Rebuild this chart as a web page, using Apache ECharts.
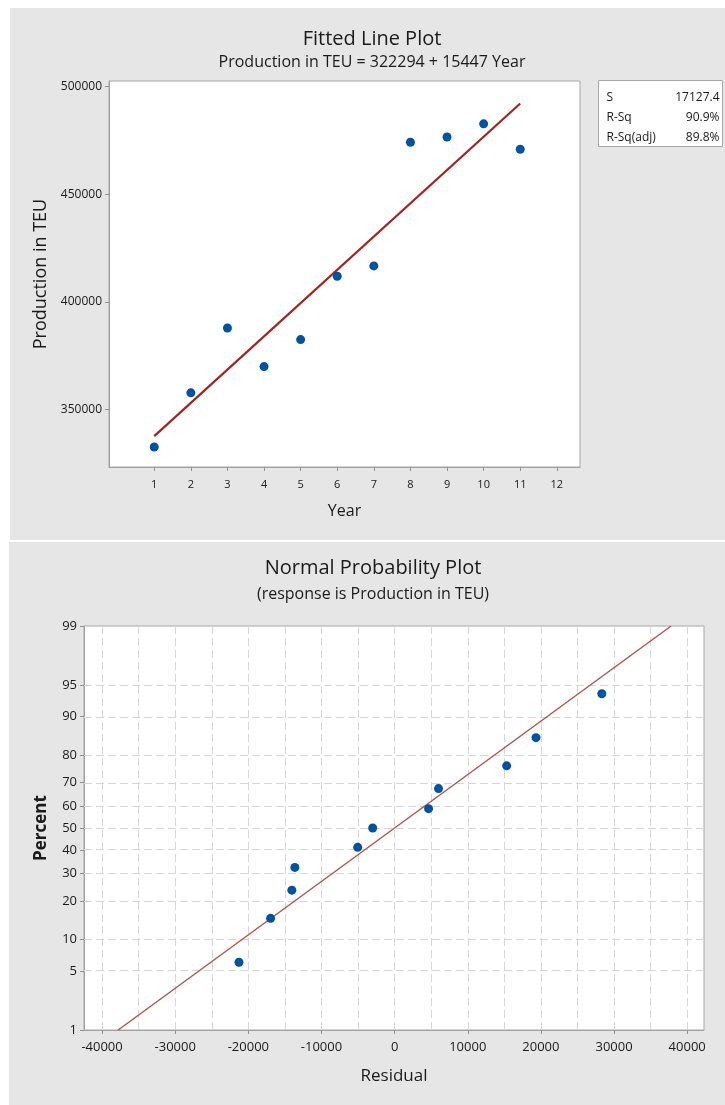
<!DOCTYPE html>
<html>
<head>
<meta charset="utf-8">
<style>
  html, body { margin: 0; padding: 0; background: #fff; }
  #chart { width: 725px; height: 1105px; }
</style>
</head>
<body>
<div id="chart"></div>
<script src="https://cdn.jsdelivr.net/npm/echarts@6/dist/echarts.min.js"></script>
<script>
// fitted line plot data
var years = [1, 2, 3, 4, 5, 6, 7, 8, 9, 10, 11];
var production = [332700, 357830, 387965, 370030, 382570, 411976, 416780, 474200, 476640, 482760, 470930];
var fitIntercept = 322294;
var fitSlope = 15447;
var yearTicks = [1, 2, 3, 4, 5, 6, 7, 8, 9, 10, 11, 12];
var productionTicks = [350000, 400000, 450000, 500000];
var statNames = ['S', 'R-Sq', 'R-Sq(adj)'];
var statValues = ['17127.4', '90.9%', '89.8%'];

// normal probability plot data
var residuals = [-21280, -16960, -14050, -13640, -5050, -3000, 4640, 6000, 15320, 19330, 28330];
var percents = [6.1, 14.9, 23.7, 32.5, 41.2, 50.0, 58.8, 67.5, 76.3, 85.1, 93.9];
var refMean = 0;
var refSd = 16250;
var percentTicks = [1, 5, 10, 20, 30, 40, 50, 60, 70, 80, 90, 95, 99];
var residualTicks = [-40000, -30000, -20000, -10000, 0, 10000, 20000, 30000, 40000];

var FONT = 'Open Sans';
var INK = '#1a1a1a';

// inverse normal cdf (Acklam), used as the probability scale
function probit(p) {
  var a = [-3.969683028665376e+01, 2.209460984245205e+02, -2.759285104469687e+02, 1.383577518672690e+02, -3.066479806614716e+01, 2.506628277459239e+00];
  var b = [-5.447609879822406e+01, 1.615858368580409e+02, -1.556989798598866e+02, 6.680131188771972e+01, -1.328068155288572e+01];
  var c = [-7.784894002430293e-03, -3.223964580411365e-01, -2.400758277161838e+00, -2.549732539343734e+00, 4.374664141464968e+00, 2.938163982698783e+00];
  var d = [7.784695709041462e-03, 3.224671290700398e-01, 2.445134137142996e+00, 3.754408661907416e+00];
  var q, r;
  if (p < 0.02425) {
    q = Math.sqrt(-2 * Math.log(p));
    return (((((c[0]*q+c[1])*q+c[2])*q+c[3])*q+c[4])*q+c[5]) / ((((d[0]*q+d[1])*q+d[2])*q+d[3])*q+1);
  }
  if (p <= 1 - 0.02425) {
    q = p - 0.5; r = q * q;
    return (((((a[0]*r+a[1])*r+a[2])*r+a[3])*r+a[4])*r+a[5])*q / (((((b[0]*r+b[1])*r+b[2])*r+b[3])*r+b[4])*r+1);
  }
  q = Math.sqrt(-2 * Math.log(1 - p));
  return -(((((c[0]*q+c[1])*q+c[2])*q+c[3])*q+c[4])*q+c[5]) / ((((d[0]*q+d[1])*q+d[2])*q+d[3])*q+1);
}

var topPoints = years.map(function (x, i) { return [x, production[i]]; });
var topFit = [years[0], years[years.length - 1]].map(function (x) { return [x, fitIntercept + fitSlope * x]; });

var probPoints = residuals.map(function (r, i) { return [r, probit(percents[i] / 100)]; });
var probFit = [percentTicks[0], percentTicks[percentTicks.length - 1]].map(function (p) {
  var z = probit(p / 100);
  return [refMean + refSd * z, z];
});
var percentZ = percentTicks.map(function (p) { return probit(p / 100); });

// dashed reference grid for the probability plot
var gridLines = [];
for (var v = -40000; v <= 40000; v += 5000) gridLines.push({ xAxis: v });
percentZ.slice(1, -1).forEach(function (z) { gridLines.push({ yAxis: z }); });

var statsBox = { type: 'group', left: 598, top: 80, children: [
  { type: 'rect', shape: { x: 0, y: 0, width: 124, height: 66 }, style: { fill: '#fff', stroke: '#a8a8a8', lineWidth: 1 } }
]};
statNames.forEach(function (n, i) {
  statsBox.children.push({ type: 'text', x: 8, y: 17 + i * 20, style: { text: n, fill: INK, font: '12px ' + FONT, verticalAlign: 'middle' } });
  statsBox.children.push({ type: 'text', x: 121, y: 17 + i * 20, style: { text: statValues[i], fill: INK, font: '12px ' + FONT, align: 'right', verticalAlign: 'middle' } });
});

function plain(v) { return String(v); }

var chart = echarts.init(document.getElementById('chart'));

var axisLineStyle = { show: true, onZero: false, lineStyle: { color: '#a0a0a0', width: 1 } };
var tickStyle = { show: true, length: 4, lineStyle: { color: '#909090' } };

var option = {
  backgroundColor: '#fff',
  animation: false,
  textStyle: { fontFamily: FONT },
  graphic: [
    { type: 'rect', shape: { x: 10, y: 8, width: 715, height: 532 }, style: { fill: '#e6e6e6' }, z: -10 },
    { type: 'rect', shape: { x: 9, y: 542, width: 716, height: 563 }, style: { fill: '#e6e6e6' }, z: -10 },
    statsBox
  ],
  title: [
    { text: 'Fitted Line Plot', left: 367, top: 24, textAlign: 'center', textStyle: { fontSize: 20, fontWeight: 'normal', color: INK, fontFamily: FONT } },
    { text: 'Production in TEU = 322294 + 15447 Year', left: 367, top: 49, textAlign: 'center', textStyle: { fontSize: 16, fontWeight: 'normal', color: INK, fontFamily: FONT } },
    { text: 'Normal Probability Plot', left: 368, top: 553, textAlign: 'center', textStyle: { fontSize: 20, fontWeight: 'normal', color: INK, fontFamily: FONT } },
    { text: '(response is Production in TEU)', left: 368, top: 581, textAlign: 'center', textStyle: { fontSize: 16, fontWeight: 'normal', color: INK, fontFamily: FONT } }
  ],
  grid: [
    { left: 109, top: 81, right: 145, bottom: 638, show: true, backgroundColor: '#fff', borderColor: '#a8a8a8', borderWidth: 1 },
    { left: 84, top: 626, right: 21, bottom: 75, show: true, backgroundColor: '#fff', borderColor: '#a8a8a8', borderWidth: 1 }
  ],
  xAxis: [
    {
      type: 'value', gridIndex: 0, min: -0.236, max: 12.633,
      name: 'Year', nameLocation: 'middle', nameGap: 36,
      nameTextStyle: { fontSize: 16, color: INK },
      axisLine: axisLineStyle, axisTick: Object.assign({ customValues: yearTicks }, tickStyle),
      axisLabel: { customValues: yearTicks, fontSize: 11, color: INK, margin: 12, formatter: plain },
      splitLine: { show: false }
    },
    {
      type: 'value', gridIndex: 1, min: -42470, max: 42300,
      name: 'Residual', nameLocation: 'middle', nameGap: 38,
      nameTextStyle: { fontSize: 17, color: INK },
      axisLine: axisLineStyle, axisTick: Object.assign({ customValues: residualTicks }, tickStyle),
      axisLabel: { customValues: residualTicks, fontSize: 13, color: INK, margin: 11, formatter: plain },
      splitLine: { show: false }
    }
  ],
  yAxis: [
    {
      type: 'value', gridIndex: 0, min: 323400, max: 502650,
      name: 'Production in TEU', nameLocation: 'middle', nameGap: 58,
      nameTextStyle: { fontSize: 18, color: INK },
      axisLine: axisLineStyle, axisTick: Object.assign({ customValues: productionTicks }, tickStyle),
      axisLabel: { customValues: productionTicks, fontSize: 12, color: INK, margin: 7, formatter: plain },
      splitLine: { show: false }
    },
    {
      type: 'value', gridIndex: 1, min: percentZ[0], max: percentZ[percentZ.length - 1],
      name: 'Percent', nameLocation: 'middle', nameGap: 34,
      nameTextStyle: { fontSize: 17, fontWeight: 'bold', color: INK },
      axisLine: axisLineStyle, axisTick: Object.assign({ customValues: percentZ }, tickStyle),
      axisLabel: {
        customValues: percentZ, fontSize: 13, color: INK, margin: 7,
        formatter: function (val) {
          var best = 0;
          percentZ.forEach(function (z, i) { if (Math.abs(z - val) < Math.abs(percentZ[best] - val)) best = i; });
          return String(percentTicks[best]);
        }
      },
      splitLine: { show: false }
    }
  ],
  series: [
    {
      type: 'line', xAxisIndex: 0, yAxisIndex: 0, data: topFit, symbol: 'none',
      lineStyle: { color: '#a3231f', width: 2.2 }, z: 3, silent: true
    },
    {
      type: 'scatter', xAxisIndex: 0, yAxisIndex: 0, data: topPoints,
      symbol: 'circle', symbolSize: 9, itemStyle: { color: '#0052a3', opacity: 1 }, z: 4
    },
    {
      type: 'line', xAxisIndex: 1, yAxisIndex: 1, data: [], silent: true, z: 1,
      markLine: {
        z: 1, silent: true, symbol: 'none', label: { show: false },
        lineStyle: { color: '#d6d6d6', type: [8, 4], width: 1 },
        emphasis: { disabled: true },
        data: gridLines
      }
    },
    {
      type: 'line', xAxisIndex: 1, yAxisIndex: 1, data: probFit, symbol: 'none',
      lineStyle: { color: '#b4504c', width: 1.4 }, z: 3, silent: true
    },
    {
      type: 'scatter', xAxisIndex: 1, yAxisIndex: 1, data: probPoints,
      symbol: 'circle', symbolSize: 9, itemStyle: { color: '#0052a3', opacity: 1 }, z: 4
    }
  ]
};

chart.setOption(option);
</script>
</body>
</html>
